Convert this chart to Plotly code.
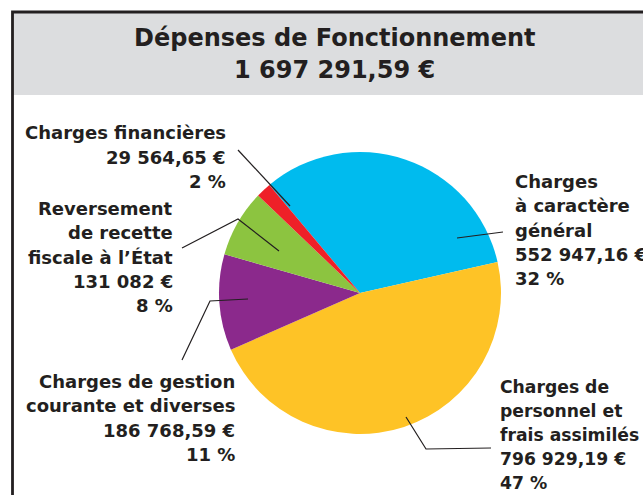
import plotly.graph_objects as go

W, H = 643, 495

# --- data ---
categories = [
    "Charges à caractère général",
    "Charges de personnel et frais assimilés",
    "Charges de gestion courante et diverses",
    "Reversement de recette fiscale à l'État",
    "Charges financières",
]
values = [552947.16, 796929.19, 186768.59, 131082.00, 29564.65]
amount_labels = ["552 947,16 €", "796 929,19 €", "186 768,59 €", "131 082 €", "29 564,65 €"]
pct_labels = ["32 %", "47 %", "11 %", "8 %", "2 %"]
name_lines = [
    ["Charges", "à caractère", "général"],
    ["Charges de", "personnel et", "frais assimilés"],
    ["Charges de gestion", "courante et diverses"],
    ["Reversement", "de recette", "fiscale à l’État"],
    ["Charges financières"],
]
colors = ["#00BBEE", "#FEC326", "#8B298C", "#8CC440", "#EE2028"]
title_lines = ["Dépenses de Fonctionnement", "1 697 291,59 €"]

TXT = "#231F20"
FONT = "DejaVu Sans"
LBL_SIZE = 18
LBL_STEP = 24.2
TITLE_SIZE = 24
TITLE_STEP = 32

def px(x):
    return x / W

def py(y):
    return 1 - y / H

# pie geometry (pixels)
cx, cy, r = 360, 293, 141

fig = go.Figure()
fig.add_trace(go.Pie(
    labels=categories, values=values, sort=False, direction="clockwise",
    rotation=-40, textinfo="none", hoverinfo="label+value+percent",
    marker=dict(colors=colors, line=dict(width=0)),
    domain=dict(x=[px(cx - r), px(cx + r)], y=[py(cy + r), py(cy - r)]),
    showlegend=False,
))

# label placement (pixels): x, y-center of block, anchor, font size
label_pos = [
    (513, 230, "left", 18),
    (498, 435, "left", 17.2),
    (237, 418, "right", 18),
    (175, 257, "right", 18),
    (228, 157, "right", 18),
]
# leader line paths (pixels)
leaders = [
    [(457, 238), (503, 232)],
    [(406, 417), (426, 449), (491, 448)],
    [(182, 360), (210, 301), (248, 299)],
    [(182, 248), (238, 219), (279, 251)],
    [(238, 150), (290, 206)],
]

annotations = []

def add_block(lines, x, yc, anc, size, step):
    n = len(lines)
    for k, t in enumerate(lines):
        y = yc + (k - (n - 1) / 2) * step
        annotations.append(dict(
            x=px(x), y=py(y), xref="paper", yref="paper",
            xanchor=anc, yanchor="middle", showarrow=False, text=t,
            font=dict(family=FONT, size=size, color=TXT, weight="bold"),
        ))

for i in range(len(categories)):
    lines = name_lines[i] + [amount_labels[i], pct_labels[i]]
    x, y, anc, sz = label_pos[i]
    add_block(lines, x, y, anc, sz, LBL_STEP)

add_block(title_lines, 334, 54, "center", TITLE_SIZE, TITLE_STEP)

shapes = [
    # header band
    dict(type="rect", xref="paper", yref="paper", x0=px(12), x1=px(W + 5),
         y0=py(95), y1=py(12), fillcolor="#DCDDDF", line=dict(width=0), layer="below"),
    # border
    dict(type="rect", xref="paper", yref="paper", x0=px(12.5), x1=px(W + 5),
         y0=py(H + 5), y1=py(12), fillcolor="rgba(0,0,0,0)",
         line=dict(color="#231F20", width=2.8)),
]
for pts in leaders:
    path = "M " + " L ".join(f"{px(x)},{py(y)}" for x, y in pts)
    shapes.append(dict(type="path", xref="paper", yref="paper", path=path,
                       line=dict(color=TXT, width=1.2)))

fig.update_layout(
    width=W, height=H, margin=dict(l=0, r=0, t=0, b=0),
    paper_bgcolor="white", plot_bgcolor="white",
    annotations=annotations, shapes=shapes,
)

fig.write_html("out.html")
